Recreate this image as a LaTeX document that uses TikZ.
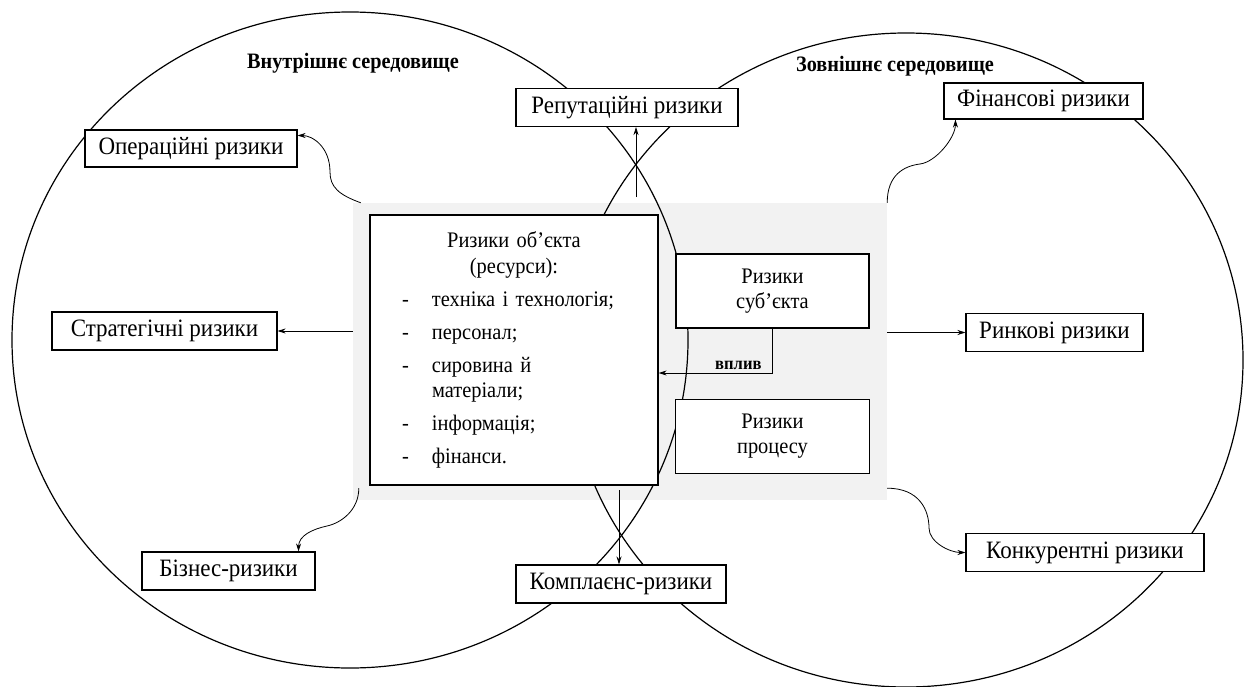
\documentclass[tikz,border=0pt]{standalone}
\usepackage{fontspec}
\setmainfont{Liberation Serif}[FakeStretch=0.92]
\usepackage{tikz}
\usetikzlibrary{positioning, arrows.meta}
\definecolor{coregray}{HTML}{F2F2F2}
\tikzstyle{riskbox} = [rectangle, minimum height=38pt, inner sep=2pt, text centered, draw=black, line width=1.1pt, fill=white, font=\fontsize{25}{28}\selectfont]
\tikzstyle{innerbox} = [rectangle, inner sep=0pt, draw=black, line width=1.3pt, fill=white, font=\fontsize{22.2}{25.5}\selectfont]
\tikzstyle{title} = [font=\bfseries\fontsize{22}{26}\selectfont]
\tikzstyle{env} = [line width=1.2pt]
\tikzstyle{arrow} = [line width=0.8pt,->,>={Stealth[length=8pt,width=5pt]}]

\begin{document}
\begin{tikzpicture}[x=1pt, y=-1pt]
        \useasboundingbox (0,0) rectangle (1246,687);
        % centre and the two environments
        \node[fill=coregray, minimum width=534pt, minimum height=297pt, inner sep=0pt] (core) at (620,351.5) {};
        \draw[env] (350,340) ellipse [x radius=338pt, y radius=328pt];
        \draw[env] (906,360) ellipse [x radius=337pt, y radius=327pt];
        \node[title]                                           (inside)  at (353,63)  {Внутрішнє середовище};
        \node[title]                                           (outside) at (895,66)  {Зовнішнє середовище};

        \node[innerbox, minimum height=270pt, text width=288pt] (obj)    at (514,350) {%
            \parindent=0pt
            {\centering Ризики об’єкта\\(ресурси):\par}
            \parskip=7.5pt \leftskip=32pt
            \makebox[30pt][l]{-}техніка і технологія;\par
            \makebox[30pt][l]{-}персонал;\par
            \makebox[30pt][l]{-}сировина й\\\hspace*{30pt}матеріали;\par
            \makebox[30pt][l]{-}інформація;\par
            \makebox[30pt][l]{-}фінанси.\par};
        \node[innerbox, minimum width=193pt, minimum height=74pt, align=center] (subj) at (772.5,291) {Ризики\\суб’єкта};
        \node[innerbox, minimum width=194pt, minimum height=74pt, align=center, below=70pt of subj] (proc) {Ризики\\процесу};

        \node[riskbox, minimum width=222pt]                    (rep)  at (627,107.5)  {Репутаційні ризики};
        \node[riskbox, minimum width=212pt, minimum height=37pt] (op) at (191,148.5)  {Операційні ризики};
        \node[riskbox, minimum width=199pt, minimum height=36pt] (fin) at (1043.5,101) {Фінансові ризики};
        \node[riskbox, minimum width=225pt]                    (str)  at (164.5,331)  {Стратегічні ризики};
        \node[riskbox, minimum width=177pt]                    (rin)  at (1054.5,332.5) {Ринкові ризики};
        \node[riskbox, minimum width=173pt]                    (biz)  at (228.5,571)  {Бізнес-ризики};
        \node[riskbox, minimum width=210pt]                    (komp) at (621,584)    {Комплаєнс-ризики};
        \node[riskbox, minimum width=238pt]                    (kon)  at (1085,552.5) {Конкурентні ризики};

        \coordinate (repfoot)  at (636,197);
        \coordinate (kompfoot) at (619,490);

        \draw[arrow] (repfoot)  -- (repfoot |- rep.south);
        \draw[arrow] (kompfoot) -- (kompfoot |- komp.north);
        \draw[arrow] (core.west |- str) -- (str.east);
        \draw[arrow] (core.east |- rin) -- (rin.west);
        \draw[arrow] (subj.south) |- node[pos=0.65, above, font=\bfseries\fontsize{18}{21}\selectfont] {вплив} ([yshift=-23pt]obj.east);

        \draw[arrow] ([xshift=8pt]core.north west) .. controls +(-22,-8) and +(0,15) .. (330,172) .. controls +(0,-25) and +(15,0) .. ([yshift=13pt]op.east);
        \draw[arrow] ([xshift=6pt,yshift=12pt]core.south west) .. controls +(0,22) and +(14,-3) .. (327,526) .. controls +(-14,3) and +(0,-16) .. ([xshift=-17pt]biz.north east);
        \draw[arrow] (core.north east) .. controls +(0,-28) and +(-16,2) .. (920,164) .. controls +(16,-2) and +(0,18) .. ([xshift=12pt]fin.south west);
        \draw[arrow] ([yshift=12pt]core.south east) .. controls +(32,0) and +(0,-18) .. (929,528) .. controls +(0,14) and +(-16,0) .. (kon.west);
    \end{tikzpicture}
\end{document}
